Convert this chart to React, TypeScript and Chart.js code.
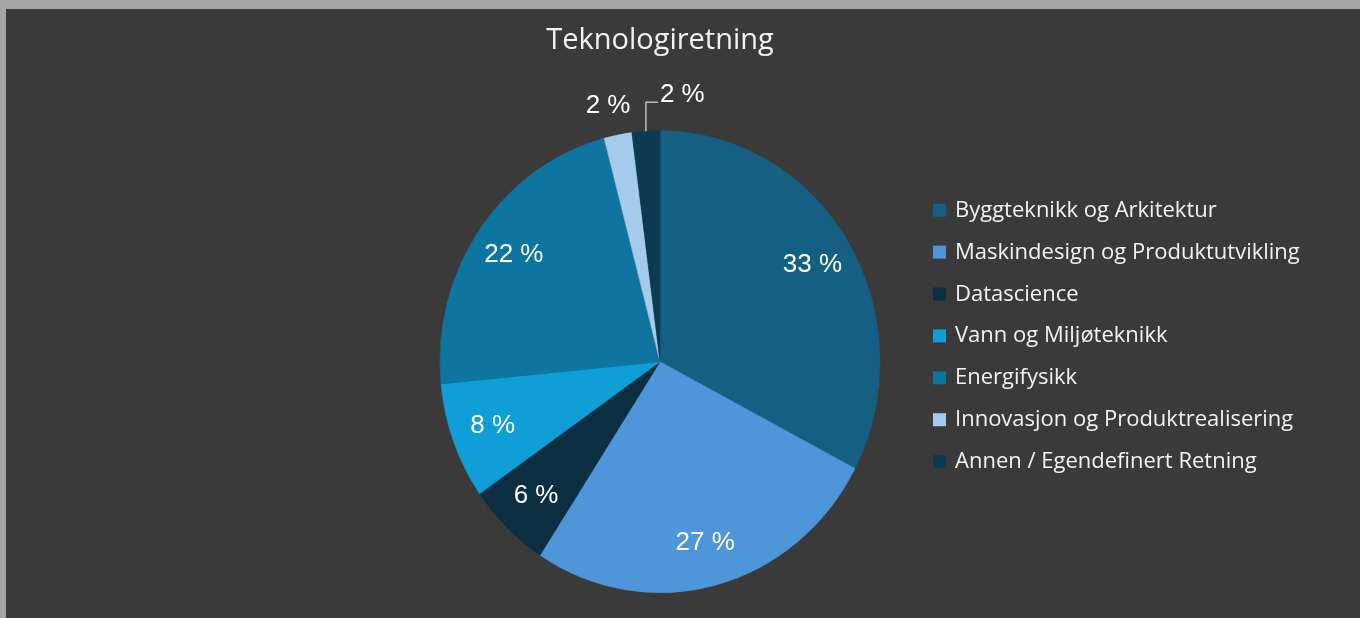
import React, { useEffect, useRef } from "react";
import { Chart, registerables } from "chart.js";

Chart.register(...registerables);

const TITLE = "Teknologiretning";
const categories = [
  "Byggteknikk og Arkitektur",
  "Maskindesign og Produktutvikling",
  "Datascience",
  "Vann og Miljøteknikk",
  "Energifysikk",
  "Innovasjon og Produktrealisering",
  "Annen / Egendefinert Retning",
];
const counts = [16, 13, 3, 4, 11, 1, 1];
const colors = ["#156082", "#4e95d9", "#0b2e41", "#0f9ed5", "#0e74a0", "#a6caec", "#0c3a52"];

const W = 1354;
const H = 609;
const BG = "#3a3a3a";
const FRAME = "#a5a5a5";
const TEXT = "#f2f2f2";
const RADIUS = 220;
const SY = 231 / 220;

const ellipsePlugin = {
  id: "ellipse",
  beforeDatasetsDraw(chart: any) {
    const a = chart.chartArea;
    const cx = (a.left + a.right) / 2;
    const cy = (a.top + a.bottom) / 2;
    const ctx = chart.ctx;
    ctx.save();
    ctx.translate(cx, cy);
    ctx.scale(1, SY);
    ctx.translate(-cx, -cy);
  },
  afterDatasetsDraw(chart: any) {
    chart.ctx.restore();
  },
};

const decorPlugin = {
  id: "decor",
  beforeDraw(chart: any) {
    const ctx = chart.ctx;
    ctx.save();
    ctx.fillStyle = BG;
    ctx.fillRect(0, 0, chart.width, chart.height);
    ctx.restore();
  },
  afterDraw(chart: any) {
    const ctx = chart.ctx;
    const a = chart.chartArea;
    const cx = (a.left + a.right) / 2;
    const cy = (a.top + a.bottom) / 2;
    ctx.save();
    // title
    ctx.fillStyle = TEXT;
    ctx.font = "29px 'Open Sans'";
    ctx.textAlign = "center";
    ctx.textBaseline = "alphabetic";
    ctx.fillText(TITLE, cx, 39.5);

    // data labels
    const total = counts.reduce((s, v) => s + v, 0);
    const meta = chart.getDatasetMeta(0);
    ctx.font = "26px 'Liberation Sans'";
    ctx.fillStyle = "#ffffff";
    meta.data.forEach((arc: any, i: number) => {
      const p = arc.getProps(["x", "y", "startAngle", "endAngle", "outerRadius"], true);
      const mid = (p.startAngle + p.endAngle) / 2;
      const txt = Math.round((counts[i] / total) * 100) + " %";
      const frac = counts[i] / total;
      const ux = Math.cos(mid);
      const uy = Math.sin(mid);
      if (frac >= 0.04) {
        const r = p.outerRadius * 0.81;
        ctx.textAlign = "center";
        ctx.textBaseline = "middle";
        ctx.fillText(txt, cx + ux * r, cy + uy * r * SY);
      } else if (i === counts.length - 1) {
        const ex = cx + ux * p.outerRadius;
        const ey = cy + uy * p.outerRadius * SY;
        const ly = ey - 29;
        const lx = ex + 12;
        ctx.strokeStyle = "#bfbfbf";
        ctx.lineWidth = 1.5;
        ctx.beginPath();
        ctx.moveTo(ex, ey);
        ctx.lineTo(ex, ly);
        ctx.lineTo(lx, ly);
        ctx.stroke();
        ctx.textAlign = "left";
        ctx.textBaseline = "alphabetic";
        ctx.fillText(txt, lx + 2, ly);
      } else {
        const r = p.outerRadius * 1.14;
        ctx.textAlign = "center";
        ctx.textBaseline = "middle";
        ctx.fillText(txt, cx + ux * r - 4, cy + uy * r * SY + 3);
      }
    });

    // legend
    ctx.font = "22px 'Open Sans'";
    ctx.textAlign = "left";
    ctx.textBaseline = "alphabetic";
    const labels = chart.data.labels as string[];
    const bg = chart.data.datasets[0].backgroundColor as string[];
    labels.forEach((lab, i) => {
      const base = 207.7 + i * 41.9;
      ctx.fillStyle = bg[i];
      ctx.fillRect(927, base - 13, 13, 13);
      ctx.fillStyle = TEXT;
      ctx.fillText(lab, 949, base);
    });
    ctx.restore();
  },
};

export default function App() {
  const ref = useRef<HTMLCanvasElement>(null);
  useEffect(() => {
    if (!ref.current) return;
    const chart = new Chart(ref.current, {
      type: "pie",
      data: {
        labels: categories,
        datasets: [
          {
            data: counts,
            backgroundColor: colors,
            borderColor: colors,
            borderWidth: 0.5,
            hoverOffset: 0,
          },
        ],
      },
      options: {
        responsive: false,
        animation: false,
        devicePixelRatio: 1,
        radius: RADIUS,
        layout: { padding: { left: 434, right: 480, top: 132.7, bottom: 36.3 } },
        plugins: {
          legend: { display: false },
          title: { display: false },
          tooltip: { enabled: false },
        },
      } as any,
      plugins: [ellipsePlugin, decorPlugin],
    });
    return () => chart.destroy();
  }, []);

  return (
    <div
      style={{
        position: "fixed",
        left: 0,
        top: 0,
        width: 1360,
        height: 618,
        background: FRAME,
      }}
    >
      <div style={{ position: "absolute", left: 6, top: 9, width: W, height: H, background: BG }}>
        <canvas ref={ref} width={W} height={H} style={{ display: "block", width: W, height: H }} />
      </div>
    </div>
  );
}
